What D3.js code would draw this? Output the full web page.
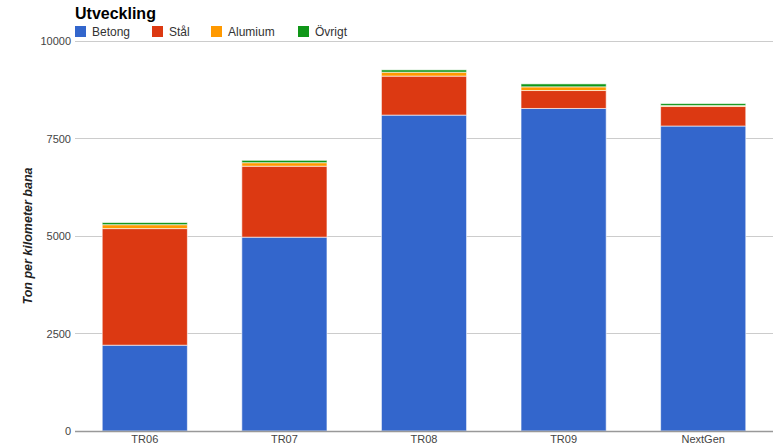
<!DOCTYPE html>
<html><head><meta charset="utf-8">
<script src="https://cdn.jsdelivr.net/npm/d3@7"></script>
<style>body{margin:0;background:#fff;}svg{display:block;font-family:"Liberation Sans",Arial,sans-serif;}</style>
</head><body>
<svg id="c" width="776" height="445"></svg>
<script>
const categories = ["TR06","TR07","TR08","TR09","NextGen"];
const seriesNames = ["Betong","Stål","Alumium","Övrigt"];
const betong = [2200,4970,8100,8270,7820];
const stal = [2990,1820,1000,460,500];
const alumium = [100,90,100,95,25];
const ovrigt = [55,60,60,75,50];
const colors = ["#3366cc","#dc3912","#ff9900","#109618"];
const yTicks = [0,2500,5000,7500,10000];
const title = "Utveckling";
const yTitle = "Ton per kilometer bana";

const svg = d3.select("#c");
const L=75, R=773, T=41, B=431;
const x = d3.scaleBand().domain(categories).range([L,R]).paddingInner(0.39).paddingOuter(0.195);
const y = d3.scaleLinear().domain([0,10000]).range([B,T]);

// gridlines
svg.append("g").selectAll("line").data(yTicks.filter(d=>d>0)).join("line")
  .attr("x1",L).attr("x2",R).attr("y1",d=>y(d)).attr("y2",d=>y(d))
  .attr("stroke","#cccccc").attr("stroke-width",1).attr("shape-rendering","crispEdges");

// y axis labels
const ya = svg.append("g").attr("transform",`translate(${L},0)`).call(d3.axisLeft(y).tickValues(yTicks).tickFormat(d3.format("d")).tickSize(0).tickPadding(4));
ya.select(".domain").remove();
ya.selectAll("text").attr("font-size",11).attr("fill","#444").attr("font-family","Liberation Sans, Arial, sans-serif");

// stacked bars
const rows = categories.map((c,i)=>({cat:c,Betong:betong[i],"Stål":stal[i],Alumium:alumium[i],"Övrigt":ovrigt[i]}));
const stack = d3.stack().keys(seriesNames)(rows);
svg.append("g").selectAll("g").data(stack).join("g").attr("fill",(d,i)=>colors[i])
  .selectAll("rect").data(d=>d).join("rect")
  .attr("x",d=>x(d.data.cat)).attr("width",x.bandwidth())
  .attr("y",d=>y(d[1])).attr("height",d=>y(d[0])-y(d[1]))
  .attr("stroke","#ffffff").attr("stroke-opacity",0.6).attr("stroke-width",1);

// baseline
svg.append("line").attr("x1",L).attr("x2",R).attr("y1",B+0.5).attr("y2",B+0.5).attr("stroke","#999").attr("stroke-width",1.5);

// x axis labels
const xa = svg.append("g").attr("transform",`translate(0,${B})`).call(d3.axisBottom(x).tickSize(0).tickPadding(4));
xa.select(".domain").remove();
xa.selectAll("text").attr("font-size",11).attr("fill","#444").attr("font-family","Liberation Sans, Arial, sans-serif");

// title
svg.append("text").attr("x",L).attr("y",19).attr("font-size",16).attr("font-weight","bold").attr("fill","#000").text(title);

// legend
const legX = [75,152,211,298];
const lg = svg.append("g").selectAll("g").data(seriesNames).join("g").attr("transform",(d,i)=>`translate(${legX[i]},26)`);
lg.append("rect").attr("width",11).attr("height",11).attr("fill",(d,i)=>colors[i]);
lg.append("text").attr("x",17).attr("y",10).attr("font-size",12).attr("fill","#333").text(d=>d);

// y title
svg.append("text").attr("transform",`translate(32,${(T+B)/2}) rotate(-90)`).attr("text-anchor","middle")
  .attr("font-size",12.5).attr("font-weight","bold").attr("font-style","italic").attr("fill","#222").text(yTitle);
</script>
</body></html>
